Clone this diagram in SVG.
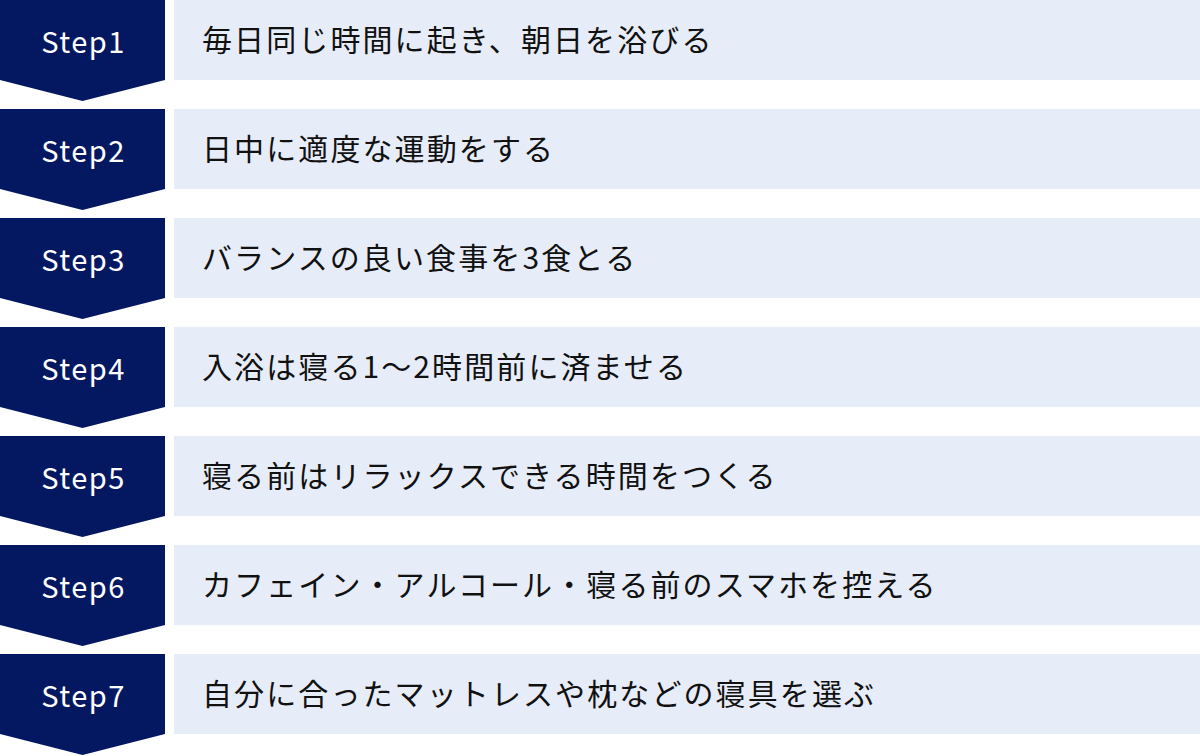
<svg xmlns="http://www.w3.org/2000/svg" width="1200" height="756" viewBox="0 0 1200 756">
<defs>
<style>
.badge{fill:#041862}
.box{fill:#E6ECF8}
.lbl{font-family:"Noto Sans CJK JP","Noto Sans",sans-serif;font-size:29px;fill:#ffffff;text-anchor:middle;letter-spacing:1.5px}
.txt{font-family:"Noto Sans CJK JP",sans-serif;font-size:30px;fill:#111111;letter-spacing:2.1px}
</style>
<path id="chev" d="M0 0H165V80L82.5 101L0 80Z"/>
</defs>
<rect width="1200" height="756" fill="#ffffff"/>
<g id="step1" transform="translate(0 0)"><use href="#chev" class="badge"/><rect class="box" x="174" y="0" width="1026" height="80"/><text class="lbl" x="83.5" y="53">Step1</text><text class="txt" x="202" y="51">毎日同じ時間に起き、朝日を浴びる</text></g>
<g id="step2" transform="translate(0 109)"><use href="#chev" class="badge"/><rect class="box" x="174" y="0" width="1026" height="80"/><text class="lbl" x="83.5" y="53">Step2</text><text class="txt" x="202" y="51">日中に適度な運動をする</text></g>
<g id="step3" transform="translate(0 218)"><use href="#chev" class="badge"/><rect class="box" x="174" y="0" width="1026" height="80"/><text class="lbl" x="83.5" y="53">Step3</text><text class="txt" x="202" y="51">バランスの良い食事を3食とる</text></g>
<g id="step4" transform="translate(0 327)"><use href="#chev" class="badge"/><rect class="box" x="174" y="0" width="1026" height="80"/><text class="lbl" x="83.5" y="53">Step4</text><text class="txt" x="202" y="51">入浴は寝る1〜2時間前に済ませる</text></g>
<g id="step5" transform="translate(0 436)"><use href="#chev" class="badge"/><rect class="box" x="174" y="0" width="1026" height="80"/><text class="lbl" x="83.5" y="53">Step5</text><text class="txt" x="202" y="51">寝る前はリラックスできる時間をつくる</text></g>
<g id="step6" transform="translate(0 545)"><use href="#chev" class="badge"/><rect class="box" x="174" y="0" width="1026" height="80"/><text class="lbl" x="83.5" y="53">Step6</text><text class="txt" x="202" y="51">カフェイン・アルコール・寝る前のスマホを控える</text></g>
<g id="step7" transform="translate(0 654)"><use href="#chev" class="badge"/><rect class="box" x="174" y="0" width="1026" height="80"/><text class="lbl" x="83.5" y="53">Step7</text><text class="txt" x="202" y="51">自分に合ったマットレスや枕などの寝具を選ぶ</text></g>
<g id="connectors"></g>
</svg>
